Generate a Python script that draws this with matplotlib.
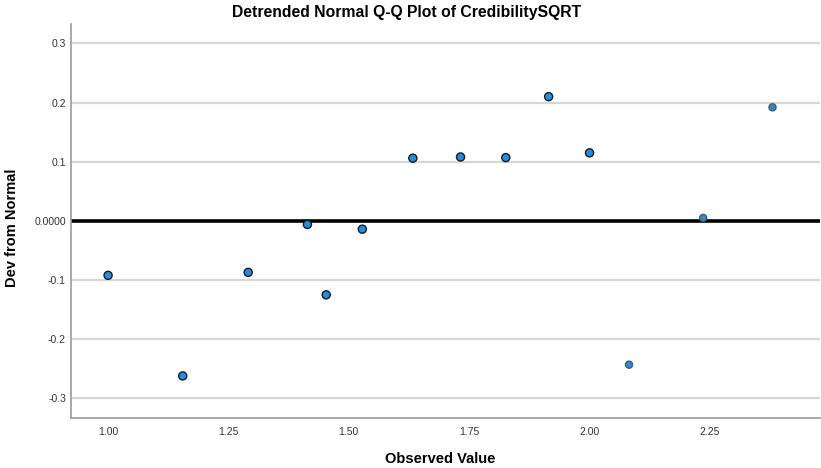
import matplotlib
matplotlib.use("Agg")
import matplotlib.pyplot as plt
import numpy as np

observed = [1.000, 1.155, 1.291, 1.414, 1.453, 1.528, 1.633, 1.732,
            1.826, 1.915, 2.000, 2.082, 2.236, 2.380]
deviation = [-0.092, -0.262, -0.087, -0.006, -0.125, -0.014, 0.106, 0.108,
             0.107, 0.210, 0.115, -0.243, 0.005, 0.192]
y_ticks = [-0.3, -0.2, -0.1, 0.0, 0.1, 0.2, 0.3]
y_tick_labels = ["-0.3", "-0.2", "-0.1", "0.0000", "0.1", "0.2", "0.3"]
x_ticks = [1.00, 1.25, 1.50, 1.75, 2.00, 2.25]
x_tick_labels = ["1.00", "1.25", "1.50", "1.75", "2.00", "2.25"]

plt.rcParams['font.family'] = ['Liberation Sans', 'DejaVu Sans']

fig = plt.figure(figsize=(8.21, 4.68), dpi=100)
ax = fig.add_axes([0.0865, 0.107, 0.9125, 0.842])

ax.set_xlim(0.923, 2.479)
ax.set_ylim(-0.333, 0.333)

# light horizontal gridlines
for yt in y_ticks:
    if yt != 0.0:
        ax.axhline(yt, color='#d6d6d6', linewidth=1.6, zorder=1)
ax.axhline(0.0, color='black', linewidth=2.6, zorder=2)

edge = ['#1a1a1a'] * 11 + ['#555555'] * 3
sizes = [34] * 11 + [26] * 3
ax.scatter(observed, deviation, s=sizes, c='#1f8fe5', edgecolors=edge,
           linewidths=1.0, zorder=3)

ax.set_yticks(y_ticks)
ax.set_yticklabels(y_tick_labels)
ax.set_xticks(x_ticks)
ax.set_xticklabels(x_tick_labels)
ax.tick_params(axis='both', length=0, labelsize=7.5, colors='#333333')
ax.tick_params(axis='y', pad=3.6)
ax.tick_params(axis='x', pad=6.5)

for side in ['top', 'right']:
    ax.spines[side].set_visible(False)
for side in ['left', 'bottom']:
    ax.spines[side].set_color('#9a9a9a')
    ax.spines[side].set_linewidth(1.2)

fig.text(407 / 821, 1 - 12 / 468, "Detrended Normal Q-Q Plot of CredibilitySQRT",
         ha='center', va='center', fontsize=11.3, fontweight='bold')
fig.text(440 / 821, 1 - 459 / 468, "Observed Value",
         ha='center', va='center', fontsize=10.5, fontweight='bold')
fig.text(12 / 821, 1 - 228 / 468, "Dev from Normal", rotation=90,
         ha='center', va='center', fontsize=10.5, fontweight='bold')

fig.savefig("out.png", dpi=100)
